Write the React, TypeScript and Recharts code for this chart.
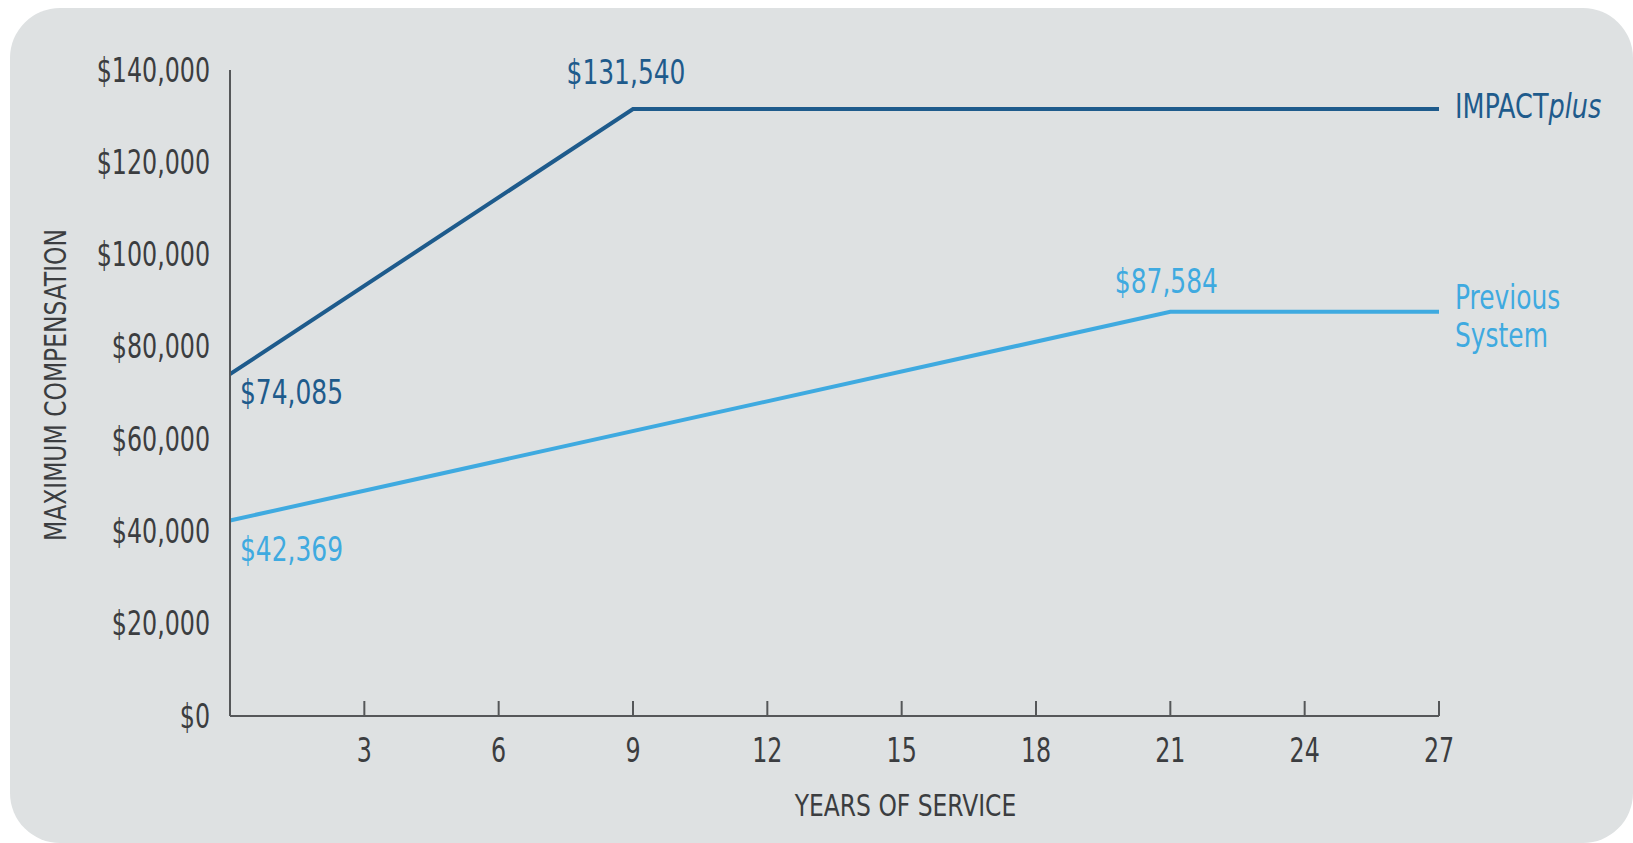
import React from "react";
import { LineChart, Line, XAxis, YAxis, LabelList, Label } from "recharts";

const impactYears = [0, 9, 27];
const impactValues = [74085, 131540, 131540];
const previousYears = [0, 21, 27];
const previousValues = [42369, 87584, 87584];
const xTicks = [0, 3, 6, 9, 12, 15, 18, 21, 24, 27];
const yTicks = [0, 20000, 40000, 60000, 80000, 100000, 120000, 140000];
const seriesNames = ["IMPACTplus", "Previous System"];

const impactData = impactYears.map((x, i) => ({ x, v: impactValues[i] }));
const previousData = previousYears.map((x, i) => ({ x, v: previousValues[i] }));

const DARK = "#1e5b8c";
const LIGHT = "#3faae0";
const AXIS = "#555759";
const TEXT = "#3b3d40";
const FONT = "'DejaVu Sans Condensed','Liberation Sans Narrow',sans-serif";

const fmt = (v: number) => "$" + v.toLocaleString("en-US");

const T = (p: any) => {
  const { x, y, anchor = "start", fill = TEXT, size = 33, sx = 0.8, rotate = 0, children } = p;
  return (
    <text
      x={0}
      y={0}
      transform={`translate(${x} ${y}) rotate(${rotate}) scale(${sx} 1)`}
      textAnchor={anchor}
      dominantBaseline="central"
      fill={fill}
      fontSize={size}
      fontFamily={FONT}
    >
      {children}
    </text>
  );
};

const XTick = (props: any) => {
  const { x, y, payload } = props;
  return (
    <g>
      <line x1={x} x2={x} y1={y} y2={y - 15} stroke={AXIS} strokeWidth={2} />
      {payload.value !== 0 && (
        <T x={x} y={y + 34} anchor="middle">
          {payload.value}
        </T>
      )}
    </g>
  );
};

const YTick = (props: any) => {
  const { x, y, payload } = props;
  return (
    <T x={x} y={y} anchor="end">
      {fmt(payload.value)}
    </T>
  );
};

const impactLabel = (props: any) => {
  const { x, y, value, index } = props;
  if (index === 0)
    return (
      <T x={x + 10} y={y + 18} fill={DARK} sx={0.84}>
        {fmt(value)}
      </T>
    );
  if (index === 1)
    return (
      <T x={x - 7} y={y - 36} anchor="middle" fill={DARK} sx={0.84}>
        {fmt(value)}
      </T>
    );
  return (
    <T x={x + 16} y={y - 3} fill={DARK} sx={0.86}>
      {seriesNames[0].replace("plus", "")}
      <tspan fontStyle="italic">plus</tspan>
    </T>
  );
};

const previousLabel = (props: any) => {
  const { x, y, value, index } = props;
  if (index === 0)
    return (
      <T x={x + 10} y={y + 29} fill={LIGHT} sx={0.84}>
        {fmt(value)}
      </T>
    );
  if (index === 1)
    return (
      <T x={x - 4} y={y - 30} anchor="middle" fill={LIGHT} sx={0.84}>
        {fmt(value)}
      </T>
    );
  const parts = seriesNames[1].split(" ");
  return (
    <g>
      <T x={x + 16} y={y - 14} fill={LIGHT} sx={0.84}>
        {parts[0]}
      </T>
      <T x={x + 16} y={y + 24} fill={LIGHT} sx={0.84}>
        {parts[1]}
      </T>
    </g>
  );
};

const YTitle = (props: any) => {
  const { viewBox } = props;
  const cx = viewBox.x + 45;
  const cy = viewBox.y + viewBox.height / 2 - 8;
  return (
    <T x={cx} y={cy} rotate={-90} anchor="middle" size={31} sx={0.84}>
      MAXIMUM COMPENSATION
    </T>
  );
};

const XTitle = (props: any) => {
  const { viewBox } = props;
  const cx = viewBox.x + viewBox.width / 2 + 71;
  const cy = viewBox.y + 89;
  return (
    <T x={cx} y={cy} anchor="middle" size={31} sx={0.84}>
      YEARS OF SERVICE
    </T>
  );
};

export default function App() {
  return (
    <div style={{ position: "absolute", left: 0, top: 0, width: 1633, height: 843, background: "#ffffff", overflow: "hidden" }}>
      <div style={{ position: "absolute", left: 10, top: 8, width: 1623, height: 835, background: "#dee1e2", borderRadius: 50 }} />
      <div style={{ position: "absolute", left: 0, top: 0 }}>
        <LineChart width={1633} height={843} margin={{ top: 70, right: 194, bottom: 67, left: 10 }}>
          <XAxis
            type="number"
            dataKey="x"
            domain={[0, 27]}
            ticks={xTicks}
            interval={0}
            tickSize={0}
            tickMargin={0}
            tickLine={false}
            tick={<XTick />}
            height={60}
            axisLine={{ stroke: AXIS, strokeWidth: 2 }}
            allowDuplicatedCategory={false}
          >
            <Label content={<XTitle />} />
          </XAxis>
          <YAxis
            type="number"
            domain={[0, 140000]}
            ticks={yTicks}
            interval={0}
            width={220}
            tickSize={0}
            tickMargin={20}
            tickLine={false}
            tick={<YTick />}
            axisLine={{ stroke: AXIS, strokeWidth: 2 }}
          >
            <Label content={<YTitle />} />
          </YAxis>
          <Line data={impactData} dataKey="v" stroke={DARK} strokeWidth={4} dot={false} isAnimationActive={false} strokeLinejoin="miter">
            <LabelList dataKey="v" content={impactLabel} />
          </Line>
          <Line data={previousData} dataKey="v" stroke={LIGHT} strokeWidth={4} dot={false} isAnimationActive={false} strokeLinejoin="miter">
            <LabelList dataKey="v" content={previousLabel} />
          </Line>
        </LineChart>
      </div>
    </div>
  );
}
